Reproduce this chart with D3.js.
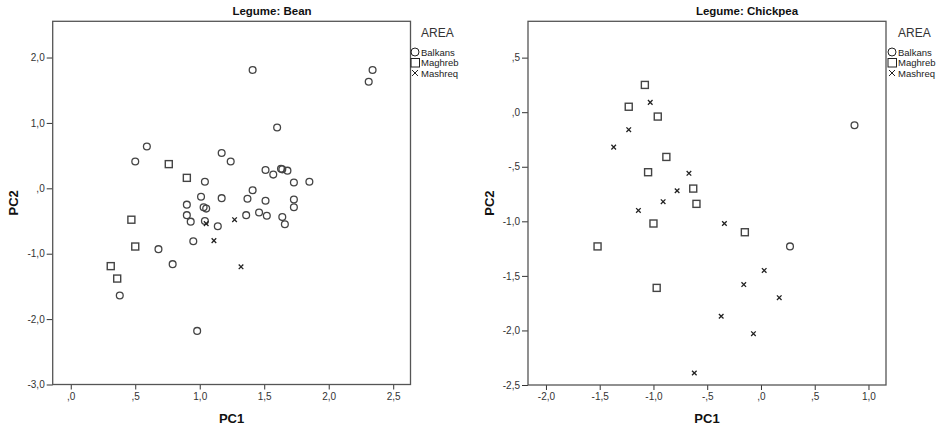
<!DOCTYPE html>
<html><head><meta charset="utf-8">
<script src="https://cdn.jsdelivr.net/npm/d3@7"></script>
<style>
html,body{margin:0;padding:0;background:#fff;}
text{font-family:"Liberation Sans",Arial,sans-serif;}
</style></head>
<body><svg id="c" width="941" height="428"></svg>
<script>
// ---- Data ----
const areas = ["Balkans", "Maghreb", "Mashreq"];

const beanBalkans = [
  [1.41,1.81],[2.34,1.81],[2.31,1.63],[1.60,0.93],[0.59,0.64],[0.50,0.41],[1.17,0.54],[1.24,0.41],
  [1.51,0.28],[1.57,0.21],[1.63,0.30],[1.64,0.29],[1.68,0.27],[1.73,0.09],[1.85,0.10],[1.04,0.10],
  [1.41,-0.03],[1.01,-0.13],[1.17,-0.15],[1.37,-0.16],[1.51,-0.19],[1.73,-0.17],[1.73,-0.29],[0.90,-0.25],
  [1.03,-0.29],[1.05,-0.31],[0.90,-0.41],[0.93,-0.51],[1.04,-0.50],[1.14,-0.58],[1.36,-0.41],[1.46,-0.37],
  [1.52,-0.42],[1.64,-0.44],[1.66,-0.55],[0.95,-0.81],[0.68,-0.93],[0.79,-1.16],[0.38,-1.64],[0.98,-2.18]
];
const beanMaghreb = [[0.76,0.37],[0.90,0.16],[0.47,-0.48],[0.50,-0.89],[0.31,-1.19],[0.36,-1.38]];
const beanMashreq = [[1.05,-0.54],[1.27,-0.48],[1.11,-0.80],[1.32,-1.20]];

const chickBalkans = [[0.87,-0.12],[0.27,-1.23]];
const chickMaghreb = [[-1.08,0.25],[-1.23,0.05],[-0.96,-0.04],[-0.88,-0.41],[-1.05,-0.55],[-0.63,-0.70],
  [-0.60,-0.84],[-1.00,-1.02],[-0.15,-1.10],[-1.52,-1.23],[-0.97,-1.61]];
const chickMashreq = [[-1.03,0.09],[-1.23,-0.16],[-1.37,-0.32],[-0.67,-0.56],[-0.78,-0.72],[-0.91,-0.82],
  [-1.14,-0.90],[-0.34,-1.02],[0.03,-1.45],[-0.16,-1.58],[0.17,-1.70],[-0.37,-1.87],[-0.07,-2.03],[-0.62,-2.39]];

const beanXTicks = [0, 0.5, 1.0, 1.5, 2.0, 2.5];
const beanYTicks = [2.0, 1.0, 0.0, -1.0, -2.0, -3.0];
const chickXTicks = [-2.0, -1.5, -1.0, -0.5, 0.0, 0.5, 1.0];
const chickYTicks = [0.5, 0.0, -0.5, -1.0, -1.5, -2.0, -2.5];

// ---- Drawing ----
const svg = d3.select("#c");
const fmt = v => {
  let s = d3.format(".1f")(Math.abs(v)).replace(".", ",");
  if (s.startsWith("0,")) s = s.slice(1);
  return (v < 0 ? "-" : "") + s;
};

function panel(opt) {
  const x = d3.scaleLinear().domain(opt.xd).range([opt.l, opt.r]);
  const y = d3.scaleLinear().domain(opt.yd).range([opt.b, opt.t]);
  const g = svg.append("g");

  // axes
  const ax = g.append("g").attr("transform", `translate(0,${opt.b})`)
    .call(d3.axisBottom(x).tickValues(opt.xt).tickFormat(fmt).tickSize(5).tickPadding(3));
  const ay = g.append("g").attr("transform", `translate(${opt.l},0)`)
    .call(d3.axisLeft(y).tickValues(opt.yt).tickFormat(fmt).tickSize(6).tickPadding(2));
  [ax, ay].forEach(a => {
    a.select(".domain").remove();
    a.selectAll(".tick line").attr("stroke", "#333").attr("stroke-width", 1);
    a.selectAll(".tick text").attr("fill", "#333").style("font-size", "10px")
      .style("font-family", "'Liberation Sans',Arial,sans-serif");
  });

  // frame
  g.append("rect").attr("x", opt.l).attr("y", opt.t)
    .attr("width", opt.r - opt.l).attr("height", opt.b - opt.t)
    .attr("fill", "none").attr("stroke", "#555").attr("stroke-width", 1.3);

  // title
  g.append("text").attr("x", opt.titleX).attr("y", 15).attr("text-anchor", "middle")
    .style("font-size", "11.5px").style("font-weight", "bold").attr("fill", "#111")
    .text(opt.title);
  // axis titles
  g.append("text").attr("x", (opt.l + opt.r) / 2).attr("y", 423).attr("text-anchor", "middle")
    .style("font-size", "13px").style("font-weight", "bold").attr("fill", "#111").text("PC1");
  g.append("text").attr("transform", `translate(${opt.yLabX},${(opt.t + opt.b) / 2}) rotate(-90)`)
    .attr("text-anchor", "middle").style("font-size", "13px").style("font-weight", "bold")
    .attr("fill", "#111").text("PC2");

  // points
  g.append("g").selectAll("circle").data(opt.bal).join("circle")
    .attr("cx", d => x(d[0])).attr("cy", d => y(d[1])).attr("r", 3.4)
    .attr("fill", "none").attr("stroke", "#444").attr("stroke-width", 1.3);
  g.append("g").selectAll("rect").data(opt.mag).join("rect")
    .attr("x", d => x(d[0]) - 3.5).attr("y", d => y(d[1]) - 3.5)
    .attr("width", 7).attr("height", 7)
    .attr("fill", "none").attr("stroke", "#444").attr("stroke-width", 1.4);
  g.append("g").selectAll("path").data(opt.mas).join("path")
    .attr("d", d => {
      const cx = x(d[0]), cy = y(d[1]), s = 2.3;
      return `M${cx - s},${cy - s}L${cx + s},${cy + s}M${cx - s},${cy + s}L${cx + s},${cy - s}`;
    })
    .attr("stroke", "#222").attr("stroke-width", 1.3).attr("fill", "none");

  // legend
  const lg = g.append("g").attr("transform", `translate(${opt.legX},0)`);
  lg.append("text").attr("x", 6).attr("y", 37).style("font-size", "12px").attr("fill", "#333").text("AREA");
  const rowY = [52, 62.5, 73];
  areas.forEach((a, i) => {
    const yy = rowY[i];
    if (i === 0) lg.append("circle").attr("cx", 0).attr("cy", yy).attr("r", 4)
      .attr("fill", "none").attr("stroke", "#222").attr("stroke-width", 1);
    if (i === 1) lg.append("rect").attr("x", -4).attr("y", yy - 4).attr("width", 8.5).attr("height", 8.5)
      .attr("fill", "none").attr("stroke", "#222").attr("stroke-width", 1);
    if (i === 2) lg.append("path")
      .attr("d", `M-3,${yy - 3}L3,${yy + 3}M-3,${yy + 3}L3,${yy - 3}`)
      .attr("stroke", "#222").attr("stroke-width", 1);
    lg.append("text").attr("x", 6).attr("y", yy + 3.5).style("font-size", "9.5px").attr("fill", "#222").text(a);
  });
}

panel({
  l: 52.7, r: 410.5, t: 21.3, b: 384.5,
  xd: [-0.14, 2.634], yd: [-3.0, 2.554],
  xt: beanXTicks, yt: beanYTicks,
  title: "Legume: Bean", titleX: 272, yLabX: 18, legX: 415,
  bal: beanBalkans, mag: beanMaghreb, mas: beanMashreq
});
panel({
  l: 528, r: 886, t: 21.3, b: 385,
  xd: [-2.167, 1.163], yd: [-2.5, 0.833],
  xt: chickXTicks, yt: chickYTicks,
  title: "Legume: Chickpea", titleX: 747, yLabX: 494, legX: 892,
  bal: chickBalkans, mag: chickMaghreb, mas: chickMashreq
});
</script></body></html>
